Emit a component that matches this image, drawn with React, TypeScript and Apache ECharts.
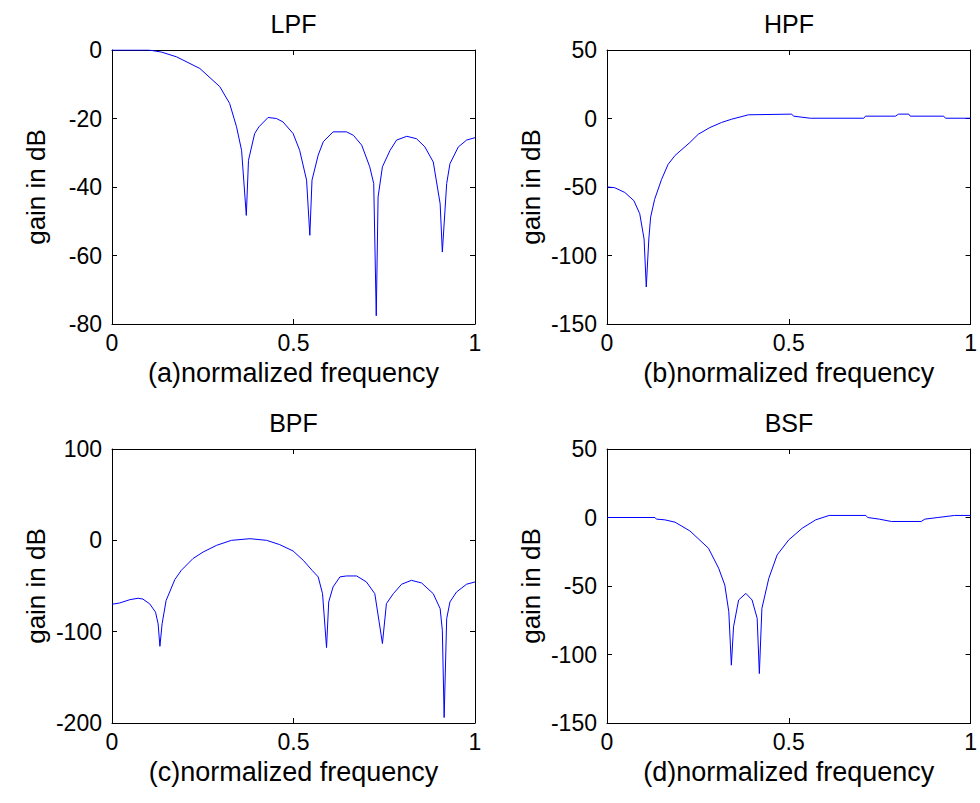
import React, { useEffect, useRef } from "react";
import * as echarts from "echarts";

// ---------- data ----------
const lpfX = [0, 0.102, 0.136, 0.178, 0.242, 0.297, 0.324, 0.343, 0.357, 0.370, 0.376, 0.393, 0.405, 0.430, 0.453, 0.471, 0.499, 0.517, 0.536, 0.545, 0.551, 0.568, 0.582, 0.609, 0.646, 0.665, 0.688, 0.710, 0.721, 0.728, 0.733, 0.745, 0.766, 0.784, 0.812, 0.839, 0.862, 0.885, 0.904, 0.910, 0.922, 0.931, 0.954, 0.977, 1.0];
const lpfY = [0, 0, -0.6, -2, -5.4, -10.7, -15.6, -22.4, -29.3, -48.3, -32.2, -24.4, -22.4, -19.7, -20, -21, -24.4, -29.3, -38, -54.1, -38, -30.7, -26.8, -23.9, -23.9, -24.9, -27.8, -34.1, -39, -77.6, -42.9, -34.1, -29.3, -26.3, -25.2, -25.9, -28.3, -32.7, -44.9, -59, -39, -33.2, -28.3, -26.3, -25.6];

const hpfX = [0, 0.021, 0.049, 0.074, 0.090, 0.102, 0.108, 0.115, 0.120, 0.131, 0.150, 0.168, 0.187, 0.228, 0.251, 0.283, 0.315, 0.343, 0.389, 0.508, 0.513, 0.559, 0.706, 0.711, 0.793, 0.802, 0.830, 0.834, 0.926, 0.931, 1.0];
const hpfY = [-50, -50.5, -54, -60, -69.5, -88, -123, -88, -72, -59, -44.5, -33.5, -27, -17.5, -11.5, -6.6, -2.9, -0.5, 2.7, 3.2, 1.7, 0.2, 0.2, 1.7, 1.7, 3.2, 3.2, 1.7, 1.7, 0.2, 0.2];

const bpfX = [0, 0.021, 0.049, 0.072, 0.085, 0.104, 0.120, 0.127, 0.132, 0.138, 0.149, 0.173, 0.191, 0.223, 0.251, 0.288, 0.329, 0.380, 0.426, 0.462, 0.499, 0.527, 0.551, 0.568, 0.580, 0.591, 0.597, 0.609, 0.628, 0.646, 0.674, 0.701, 0.724, 0.736, 0.745, 0.756, 0.775, 0.798, 0.825, 0.853, 0.885, 0.904, 0.910, 0.915, 0.922, 0.931, 0.949, 0.977, 1.0];
const bpfY = [-70, -68.6, -65, -63.4, -64.3, -69.6, -78.7, -91.4, -116, -91.4, -66, -43, -32.8, -20, -12.8, -5.5, 0, 1.8, 0, -4.7, -11.7, -21.9, -32.8, -40, -58.4, -117.5, -67.5, -51, -40, -39, -39, -45.6, -58.4, -89.5, -113, -69.3, -58.4, -48, -43.8, -46.7, -58.4, -74.8, -98.5, -194, -85.8, -67.5, -56.6, -48, -45.6];

const bsfX = [0, 0.132, 0.136, 0.159, 0.187, 0.228, 0.279, 0.307, 0.324, 0.335, 0.342, 0.348, 0.362, 0.382, 0.399, 0.413, 0.419, 0.426, 0.445, 0.468, 0.500, 0.537, 0.574, 0.611, 0.712, 0.717, 0.749, 0.782, 0.864, 0.874, 0.910, 0.956, 1.0];
const bsfY = [0, 0, -1.2, -1.7, -3.4, -9.8, -22.4, -37, -49.3, -68.8, -107.8, -79.8, -60.2, -55.4, -60.2, -73.6, -113.9, -66.3, -44.4, -27.3, -16.3, -7.8, -1.7, 1.5, 1.5, 0, -1.2, -2.9, -2.9, -1.2, 0, 1.5, 1.5];

const titles = ["LPF", "HPF", "BPF", "BSF"];
const xNames = ["(a)normalized frequency", "(b)normalized frequency", "(c)normalized frequency", "(d)normalized frequency"];
const yName = "gain in dB";
const yMins = [-80, -150, -200, -150];
const yMaxs = [0, 50, 100, 50];
const yIntervals = [20, 50, 100, 50];
const xMin = 0;
const xMax = 1;
const xInterval = 0.5;

const FONT = "'Liberation Sans', Arial, sans-serif";
const BLACK = "#000";

export default function App() {
  const ref = useRef<HTMLDivElement>(null);

  useEffect(() => {
    if (!ref.current) return;
    const chart = echarts.init(ref.current, null, { renderer: "svg" });

    const xs = [lpfX, hpfX, bpfX, bsfX];
    const ys = [lpfY, hpfY, bpfY, bsfY];

    const grids = [
      { left: 112, top: 50, width: 363, height: 274 },
      { left: 607, top: 50, width: 364, height: 274 },
      { left: 112, top: 449, width: 363, height: 274 },
      { left: 607, top: 449, width: 364, height: 274 },
    ];

    const xAxes: any[] = [];
    const yAxes: any[] = [];
    const series: any[] = [];
    const graphics: any[] = [];

    grids.forEach((g, i) => {
      const tickStyle = { show: true, inside: true, length: 5, lineStyle: { color: BLACK, width: 1 } };
      const lineStyle = { show: true, onZero: false, lineStyle: { color: BLACK, width: 1 } };
      xAxes.push({
        type: "value",
        gridIndex: i,
        position: "bottom",
        min: xMin,
        max: xMax,
        interval: xInterval,
        axisLine: lineStyle,
        axisTick: tickStyle,
        splitLine: { show: false },
        axisLabel: { color: BLACK, fontSize: 23, fontFamily: FONT, margin: 7 },
        name: xNames[i],
        nameLocation: "middle",
        nameGap: 35,
        nameTextStyle: { color: BLACK, fontSize: 27, fontFamily: FONT },
      });
      xAxes.push({
        type: "value",
        gridIndex: i,
        position: "top",
        min: xMin,
        max: xMax,
        interval: xInterval,
        axisLine: lineStyle,
        axisTick: tickStyle,
        splitLine: { show: false },
        axisLabel: { show: false },
      });
      yAxes.push({
        type: "value",
        gridIndex: i,
        position: "left",
        min: yMins[i],
        max: yMaxs[i],
        interval: yIntervals[i],
        axisLine: lineStyle,
        axisTick: tickStyle,
        splitLine: { show: false },
        axisLabel: { color: BLACK, fontSize: 23, fontFamily: FONT, margin: 10 },
        name: yName,
        nameLocation: "middle",
        nameGap: 63,
        nameTextStyle: { color: BLACK, fontSize: 26, fontFamily: FONT },
      });
      yAxes.push({
        type: "value",
        gridIndex: i,
        position: "right",
        min: yMins[i],
        max: yMaxs[i],
        interval: yIntervals[i],
        axisLine: lineStyle,
        axisTick: tickStyle,
        splitLine: { show: false },
        axisLabel: { show: false },
      });
      series.push({
        type: "line",
        xAxisIndex: i * 2,
        yAxisIndex: i * 2,
        data: xs[i].map((x, k) => [x, ys[i][k]]),
        showSymbol: false,
        symbol: "none",
        lineStyle: { color: "#0000ff", width: 1 },
        itemStyle: { color: "#0000ff" },
      });
      graphics.push({
        type: "text",
        x: g.left + g.width / 2,
        y: g.top - 26,
        style: {
          text: titles[i],
          fontSize: 25,
          fontFamily: FONT,
          fill: BLACK,
          align: "center",
          verticalAlign: "middle",
          textAlign: "center",
          textVerticalAlign: "middle",
        },
      });
    });

    chart.setOption({
      animation: false,
      backgroundColor: "#fff",
      grid: grids.map((g) => ({ ...g, containLabel: false })),
      xAxis: xAxes,
      yAxis: yAxes,
      series,
      graphic: graphics,
    });

    return () => chart.dispose();
  }, []);

  return (
    <div
      ref={ref}
      style={{ position: "fixed", left: 0, top: 0, width: 980, height: 803, background: "#fff" }}
    />
  );
}
